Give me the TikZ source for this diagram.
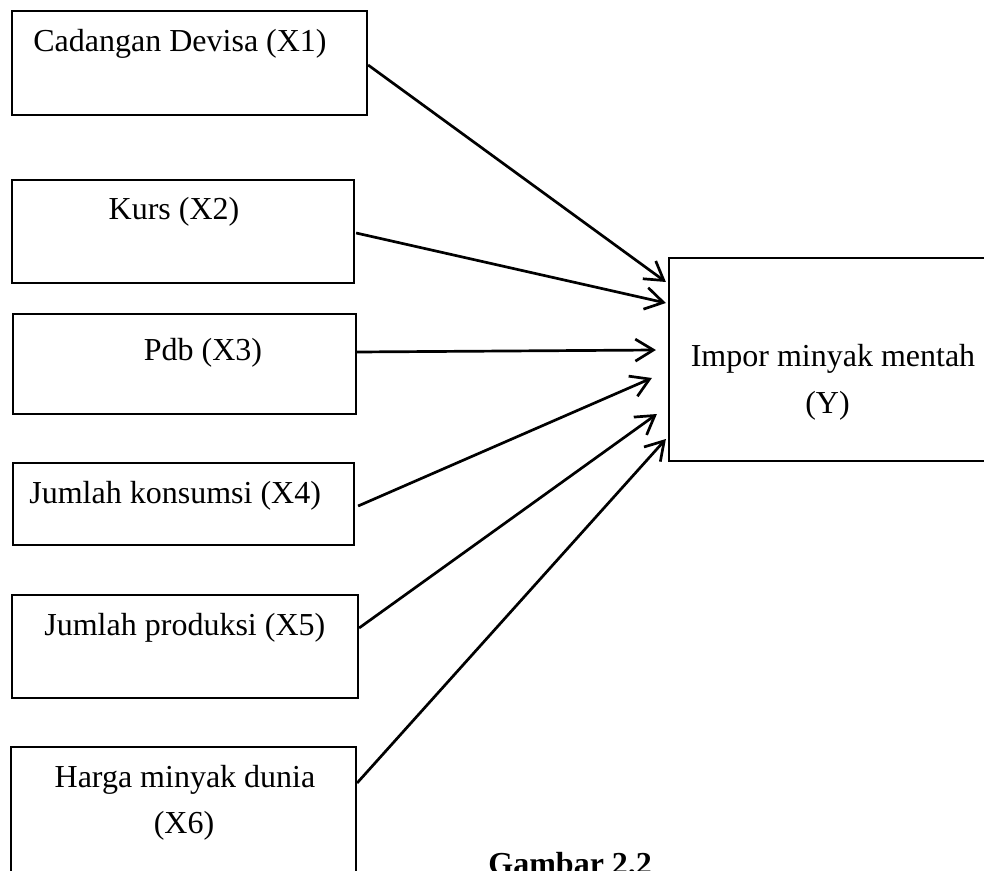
\documentclass[tikz,border=0pt]{standalone}
\usepackage{fontspec}
\setmainfont{Liberation Serif}
\usetikzlibrary{arrows.meta,calc}
\tikzset{
  box/.style={draw, line width=1.1pt, inner sep=0pt},
  lbl/.style={inner sep=0pt, font=\fontsize{16}{16}\selectfont},
  arr/.style={line width=1.35pt, -{Straight Barb[length=9pt,width=11pt,line width=1.35pt]}}
}
\begin{document}
\begin{tikzpicture}[x=0.5pt,y=-0.5pt]
\useasboundingbox (0,0) rectangle (984,871);
\clip (0,0) rectangle (984,871);
% boxes
\node[box, minimum width=177.5pt, minimum height=52pt] (x1) at (189.5,63) {};
\node[box, minimum width=171pt, minimum height=51.5pt] (x2) at (183,231.5) {};
\node[box, minimum width=171.5pt, minimum height=50pt] (x3) at (184.5,364) {};
\node[box, minimum width=170.5pt, minimum height=41pt] (x4) at (183.5,504) {};
\node[box, minimum width=173pt, minimum height=51.5pt] (x5) at (185,646.5) {};
\node[box, minimum width=172.5pt, minimum height=76.5pt] (x6) at (183.5,823.5) {};
\node[box, minimum width=165.5pt, minimum height=101.5pt] (y) at (834.5,359.5) {};
% labels
\node[lbl, anchor=base west] (t1) at (33,52) {Cadangan Devisa (X1)};
\node[lbl, anchor=base] (t2) at (174,220) {Kurs (X2)};
\node[lbl, anchor=base] (t3) at (203,360) {Pdb (X3)};
\node[lbl, anchor=base west] (t4) at (29,503) {Jumlah konsumsi (X4)};
\node[lbl, anchor=base west] (t5) at (44,635) {Jumlah produksi (X5)};
\node[lbl, anchor=base] (t6a) at (185,787) {Harga minyak dunia};
\node[lbl, anchor=base] (t6b) at (184,833) {(X6)};
\node[lbl, anchor=base] (ty1) at (833,366) {Impor minyak mentah};
\node[lbl, anchor=base] (ty2) at (827.5,413) {(Y)};
\node[lbl, anchor=base west, font=\fontsize{16}{16}\selectfont\bfseries] (cap) at (488,874) {Gambar 2.2};
% arrows
\draw[arr] ($(x1.east)+(0,2)$) -- ($(y.west)+(-2,-77.5)$);
\draw[arr] ($(x2.east)+(1,1.5)$) -- ($(y.west)+(-2,-56.5)$);
\draw[arr] ($(x3.east)+(0,-12)$) -- ($(y.west)+(-12,-9.5)$);
\draw[arr] ($(x4.east)+(3,2)$) -- ($(y.west)+(-16,18.5)$);
\draw[arr] ($(x5.east)+(0,-18.5)$) -- ($(y.west)+(-11,54.5)$);
\draw[arr] ($(x6.east)+(0,-40.5)$) -- ($(y.west)+(-2,79.5)$);
\end{tikzpicture}
\end{document}
